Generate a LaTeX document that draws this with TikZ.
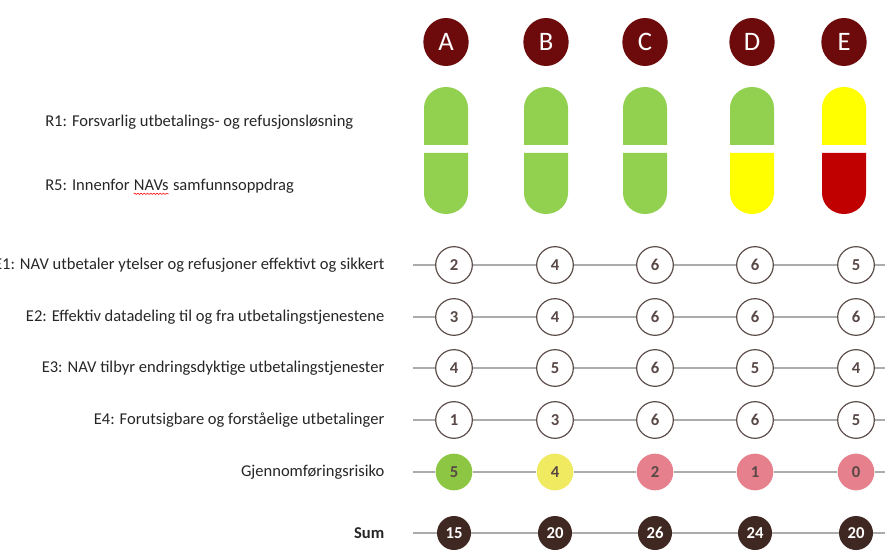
\documentclass[tikz,border=0pt]{standalone}
\usepackage{fontspec}
\setmainfont{Carlito}
\usetikzlibrary{shapes.geometric,decorations.pathmorphing}
\definecolor{headred}{RGB}{108,10,12}
\definecolor{pillgreen}{RGB}{146,208,80}
\definecolor{pillyellow}{RGB}{255,255,0}
\definecolor{pillred}{RGB}{192,0,0}
\definecolor{ringgray}{RGB}{92,78,74}
\definecolor{numgray}{RGB}{88,72,70}
\definecolor{linegray}{RGB}{172,172,172}
\definecolor{labelgray}{RGB}{38,38,38}
\definecolor{riskgreen}{RGB}{141,198,66}
\definecolor{riskyellow}{RGB}{240,234,96}
\definecolor{riskpink}{RGB}{230,128,140}
\definecolor{sumbrown}{RGB}{64,40,34}
\newcommand{\ringsize}{27.5pt}
\newcommand{\totalsize}{25.5pt}

\begin{document}
\begin{tikzpicture}[x=0.75pt,y=-0.75pt,
  head/.style={ellipse, fill=headred, minimum width=34pt, minimum height=36pt, inner sep=0pt, text=white, font=\fontsize{20}{24}\selectfont},
  score/.style={circle, draw=ringgray, line width=0.9pt, fill=white, minimum size=\ringsize, inner sep=0pt, text=numgray, font=\fontsize{12.5}{14}\selectfont\bfseries},
  risk/.style={circle, minimum size=\ringsize, inner sep=0pt, text=numgray, font=\fontsize{12.5}{14}\selectfont\bfseries},
  total/.style={circle, fill=sumbrown, minimum size=\totalsize, inner sep=0pt, text=white, font=\fontsize{12.5}{14}\selectfont\bfseries},
  lbl/.style={anchor=east, text=labelgray, font=\fontsize{12.4}{14}\selectfont},
  link/.style={draw=linegray, line width=1.1pt}]

  \useasboundingbox (0,0) rectangle (885,552);

  % alternatives
  \node (hA) at (446,42) [head] {A};
  \node (hB) at (546,42) [head] {B};
  \node (hC) at (645,42) [head] {C};
  \node (hD) at (752,42) [head] {D};
  \node (hE) at (844,42) [head] {E};

  % R1 / R5 pills
  \fill[pillgreen] (424,145) -- (424,108) arc[start angle=180,end angle=360,x radius=22,y radius=21] -- (468,145) -- cycle;
  \fill[pillgreen] (468,153) -- (468,193) arc[start angle=0,end angle=180,x radius=22,y radius=21] -- (424,153) -- cycle;
  \fill[pillgreen] (524,145) -- (524,108) arc[start angle=180,end angle=360,x radius=22,y radius=21] -- (568,145) -- cycle;
  \fill[pillgreen] (568,153) -- (568,193) arc[start angle=0,end angle=180,x radius=22,y radius=21] -- (524,153) -- cycle;
  \fill[pillgreen] (623,145) -- (623,108) arc[start angle=180,end angle=360,x radius=22,y radius=21] -- (667,145) -- cycle;
  \fill[pillgreen] (667,153) -- (667,193) arc[start angle=0,end angle=180,x radius=22,y radius=21] -- (623,153) -- cycle;
  \fill[pillgreen] (730,145) -- (730,108) arc[start angle=180,end angle=360,x radius=22,y radius=21] -- (774,145) -- cycle;
  \fill[pillyellow] (774,153) -- (774,193) arc[start angle=0,end angle=180,x radius=22,y radius=21] -- (730,153) -- cycle;
  \fill[pillyellow] (822,145) -- (822,108) arc[start angle=180,end angle=360,x radius=22,y radius=21] -- (866,145) -- cycle;
  \fill[pillred] (866,153) -- (866,193) arc[start angle=0,end angle=180,x radius=22,y radius=21] -- (822,153) -- cycle;

  \node (r1) at (45,122) [lbl, anchor=west, inner xsep=0pt] {R1: Forsvarlig utbetalings- og refusjonsløsning};
  \node (r5) at (45,185) [lbl, anchor=west, inner xsep=0pt] {R5: Innenfor};
  \node (nav) at ([xshift=2.9pt]r5.base east) [lbl, anchor=base west, inner xsep=0pt] {NAVs};
  \node (r5b) at ([xshift=2.9pt]nav.base east) [lbl, anchor=base west, inner xsep=0pt] {samfunnsoppdrag};
  \draw[red, line width=0.4pt, decorate, decoration={snake, amplitude=0.5pt, segment length=2.4pt}]
    ([yshift=-2.4pt]nav.base west) -- ([yshift=-2.4pt]nav.base east);

  % effect rows
  \node (le1) at (389,265) [lbl] {E1: NAV utbetaler ytelser og refusjoner effektivt og sikkert};
  \node (le2) at (389,317) [lbl] {E2: Effektiv datadeling til og fra utbetalingstjenestene};
  \node (le3) at (389,368) [lbl] {E3: NAV tilbyr endringsdyktige utbetalingstjenester};
  \node (le4) at (389,420) [lbl] {E4: Forutsigbare og forståelige utbetalinger};
  \node (lrisk) at (389,472) [lbl] {Gjennomføringsrisiko};
  \node (lsum) at (389,533) [lbl, font=\fontsize{12.4}{14}\selectfont\bfseries] {Sum};

  \node (e1A) at (454,265) [score] {2};
  \node (e1B) at (555,265) [score] {4};
  \node (e1C) at (655,265) [score] {6};
  \node (e1D) at (755,265) [score] {6};
  \node (e1E) at (856,265) [score] {5};

  \node (e2A) at (454,317) [score] {3};
  \node (e2B) at (555,317) [score] {4};
  \node (e2C) at (655,317) [score] {6};
  \node (e2D) at (755,317) [score] {6};
  \node (e2E) at (856,317) [score] {6};

  \node (e3A) at (454,368) [score] {4};
  \node (e3B) at (555,368) [score] {5};
  \node (e3C) at (655,368) [score] {6};
  \node (e3D) at (755,368) [score] {5};
  \node (e3E) at (856,368) [score] {4};

  \node (e4A) at (454,420) [score] {1};
  \node (e4B) at (555,420) [score] {3};
  \node (e4C) at (655,420) [score] {6};
  \node (e4D) at (755,420) [score] {6};
  \node (e4E) at (856,420) [score] {5};

  \node (rkA) at (454,472) [risk, fill=riskgreen] {5};
  \node (rkB) at (555,472) [risk, fill=riskyellow] {4};
  \node (rkC) at (655,472) [risk, fill=riskpink] {2};
  \node (rkD) at (755,472) [risk, fill=riskpink] {1};
  \node (rkE) at (856,472) [risk, fill=riskpink] {0};

  \node (smA) at (454,533) [total] {15};
  \node (smB) at (555,533) [total] {20};
  \node (smC) at (655,533) [total] {26};
  \node (smD) at (755,533) [total] {24};
  \node (smE) at (856,533) [total] {20};

  \coordinate (s1) at (413,265); \coordinate (t1) at (890,265);
  \coordinate (s2) at (413,317); \coordinate (t2) at (890,317);
  \coordinate (s3) at (413,368); \coordinate (t3) at (890,368);
  \coordinate (s4) at (413,420); \coordinate (t4) at (890,420);
  \coordinate (s5) at (413,472); \coordinate (t5) at (890,472);
  \coordinate (s6) at (413,533); \coordinate (t6) at (890,533);

  \draw[link] (s1) -- (e1A) -- (e1B) -- (e1C) -- (e1D) -- (e1E) -- (t1);
  \draw[link] (s2) -- (e2A) -- (e2B) -- (e2C) -- (e2D) -- (e2E) -- (t2);
  \draw[link] (s3) -- (e3A) -- (e3B) -- (e3C) -- (e3D) -- (e3E) -- (t3);
  \draw[link] (s4) -- (e4A) -- (e4B) -- (e4C) -- (e4D) -- (e4E) -- (t4);
  \draw[link] (s5) -- (rkA) -- (rkB) -- (rkC) -- (rkD) -- (rkE) -- (t5);
  \draw[link] (s6) -- (smA) -- (smB) -- (smC) -- (smD) -- (smE) -- (t6);

\end{tikzpicture}
\end{document}
